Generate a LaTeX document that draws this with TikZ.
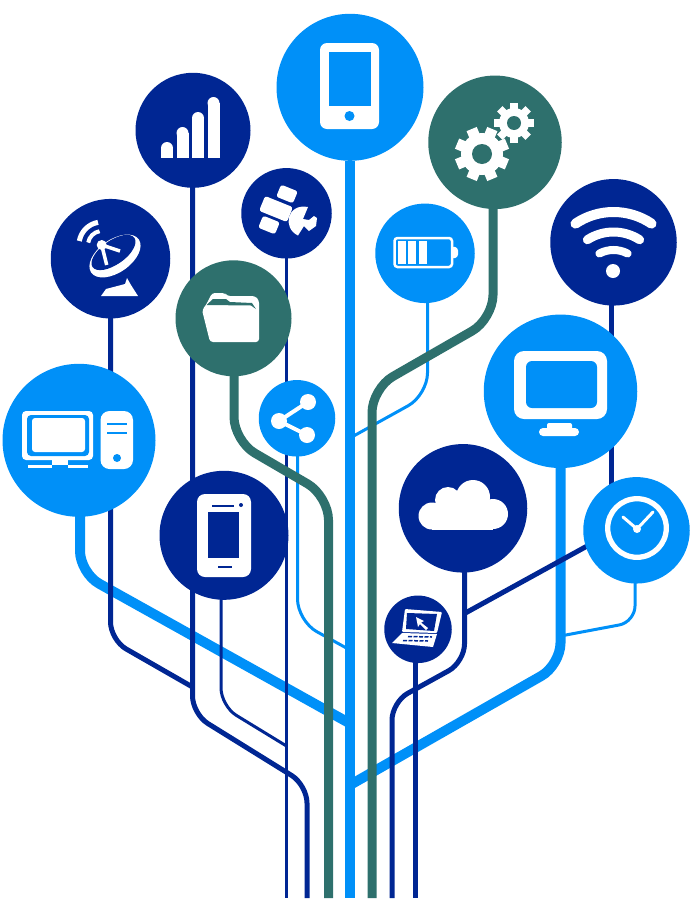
\documentclass[tikz,border=0pt]{standalone}
\usepackage{tikz}
\usepackage{xcolor}
\definecolor{navytone}{HTML}{002693}
\definecolor{skytone}{HTML}{0090F8}
\definecolor{leaftone}{HTML}{2E706D}
\pgfdeclarelayer{lines}
\pgfsetlayers{lines,main}
\begin{document}
\begin{tikzpicture}[
x=1pt, y=-1pt,
navydot/.style={circle, fill=navytone, inner sep=0pt, minimum size=#1},
skydot/.style={circle, fill=skytone, inner sep=0pt, minimum size=#1},
leafdot/.style={circle, fill=leaftone, inner sep=0pt, minimum size=#1},
navyline/.style={draw=navytone, line width=#1, rounded corners=18pt},
skyline/.style={draw=skytone, line width=#1, rounded corners=22pt},
leafline/.style={draw=leaftone, line width=9pt, rounded corners=24pt},
icon/.style={fill=white},
iconline/.style={draw=white, line width=#1}
]
\useasboundingbox (0,0) rectangle (700,900);

\node[skydot=147pt] (phone) at (350,87.3) {};
\node[navydot=115pt] (bars) at (193,130.3) {};
\node[navydot=119.5pt] (dish) at (110.5,258.7) {};
\node[navydot=90.5pt] (satellite) at (286.5,213.3) {};
\node[leafdot=116pt] (folder) at (233.5,318.3) {};
\node[leafdot=133.5pt] (gears) at (495,142.3) {};
\node[skydot=99.5pt] (battery) at (425,253.3) {};
\node[navydot=126.5pt] (wifi) at (613.5,242.3) {};
\node[skydot=153pt] (computer) at (79,440.3) {};
\node[skydot=76.5pt] (share) at (297,418.3) {};
\node[navydot=129pt] (mobile) at (224,535.3) {};
\node[skydot=153.5pt] (monitor) at (560.5,391.3) {};
\node[navydot=128.5pt] (cloud) at (463,508.3) {};
\node[skydot=106.5pt] (clock) at (636.5,530.3) {};
\node[navydot=67.5pt] (laptop) at (418,629.3) {};

\coordinate (trunkend) at (350,898);
\coordinate (computerknee) at (80,573);
\coordinate (computerjoin) at (350,723.5);
\coordinate (monitorknee) at (560.5,665);
\coordinate (monitorjoin) at (350,785);
\coordinate (folderknee) at (234,441);
\coordinate (folderbend) at (328.5,496);
\coordinate (folderend) at (328.5,898);
\coordinate (gearsknee) at (493,319);
\coordinate (gearsbend) at (372,388.5);
\coordinate (gearsend) at (372,898);
\coordinate (dishknee) at (110.5,640);
\coordinate (dishjoin) at (192.5,687);
\coordinate (barsknee) at (192.5,714);
\coordinate (barsbend) at (307,785);
\coordinate (barsend) at (307,898);
\coordinate (mobileknee) at (221,706);
\coordinate (mobilejoin) at (286.5,746);
\coordinate (satelliteend) at (286.5,898);
\coordinate (shareknee) at (297.5,621);
\coordinate (sharejoin) at (350,650);
\coordinate (batteryknee) at (427.5,395);
\coordinate (batteryjoin) at (350,438);
\coordinate (wifidrop) at (611.5,400);
\coordinate (cloudknee) at (464.5,662);
\coordinate (cloudbend) at (392,702);
\coordinate (cloudend) at (392,898);
\coordinate (cloudjoin) at (464.5,613.5);
\coordinate (clockknee) at (635,622);
\coordinate (clockjoin) at (560.5,636);
\coordinate (laptopend) at (415.5,898);

\begin{pgfonlayer}{lines}
\draw[skyline=3pt] (shareknee |- share) -- (shareknee) -- (sharejoin);
\draw[skyline=3pt] (batteryknee |- battery) -- (batteryknee) -- (batteryjoin);
\draw[skyline=3pt, rounded corners=16pt] (clockknee |- clock) -- (clockknee) -- (clockjoin);
\draw[skyline=10pt] (computerknee |- computer) -- (computerknee) -- (computerjoin);
\draw[skyline=10pt] (monitorknee |- monitor) -- (monitorknee) -- (monitorjoin);
\draw[skyline=10pt] (phone) -- (trunkend);
\draw[navyline=5pt] (dishknee |- dish) -- (dishknee) -- (dishjoin);
\draw[navyline=5pt] (barsknee |- bars) -- (barsknee) -- (barsbend) -- (barsend);
\draw[navyline=3pt] (mobileknee |- mobile) -- (mobileknee) -- (mobilejoin);
\draw[navyline=3.5pt] (satellite.center -| satelliteend) -- (satelliteend);
\draw[navyline=5pt] (wifidrop |- wifi) -- (wifidrop |- clock);
\draw[navyline=5pt] (cloudknee |- cloud) -- (cloudknee) -- (cloudbend) -- (cloudend);
\draw[navyline=5pt, shorten <=-3pt] (clock.198) -- (cloudjoin);
\draw[navyline=5.5pt] (laptopend |- laptop) -- (laptopend);
\draw[leafline] (folderknee |- folder) -- (folderknee) -- (folderbend) -- (folderend);
\draw[leafline] (gearsknee |- gears) -- (gearsknee) -- (gearsbend) -- (gearsend);
\end{pgfonlayer}

\fill[icon, rounded corners=7pt] (320,43) rectangle (379,129);
\fill[skytone] (328.5,52) rectangle (371,105.5);
\fill[skytone] (349.5,116) circle (5pt);

\foreach \bx/\bt in {161/142, 176.5/127, 192/112, 207.5/97} {
  \fill[icon] (\bx,\bt+6) rectangle (\bx+12,158);
  \fill[icon] (\bx+6,\bt+6) circle (6pt);
}

\draw[iconline=5pt] (102,245) ++(100:23pt) arc[start angle=100, end angle=170, radius=23pt];
\draw[iconline=4pt] (102,245) ++(100:14pt) arc[start angle=100, end angle=170, radius=14pt];
\fill[icon, rotate around={35:(115,256)}] (115,256) ellipse [x radius=29pt, y radius=16.5pt];
\fill[navytone, rotate around={35:(113.5,252.5)}] (113.5,252.5) ellipse [x radius=25.5pt, y radius=12pt];
\draw[navytone, line width=1.2pt] (95,265) .. controls (106,270) and (122,264) .. (131,251);
\draw[iconline=3.5pt] (101.7,245) -- (106.7,265);
\draw[iconline=3.5pt] (101.7,245) -- (120,251);
\fill[icon] (101.7,245) circle (5pt);
\fill[icon] (101,296) -- (106,289) -- (125,284) -- (127,278) -- (131,285) -- (138,296) -- cycle;

\fill[icon, rounded corners=2.5pt, rotate around={-22:(287,194)}] (278,187.5) rectangle (296,200.5);
\fill[icon, rounded corners=2.5pt, rotate around={-22:(276,209)}] (261,201) rectangle (291,217);
\fill[icon, rounded corners=2.5pt, rotate around={-22:(269,225)}] (260,218.5) rectangle (278,231.5);
\fill[icon] (308,207) .. controls (287,203) and (282,228) .. (298,235.5) -- (304,226) -- (309,231) -- (316,226) -- (317,218) -- (314,216) -- (309,220) -- (303,219) -- cycle;

\fill[icon, rounded corners=3pt] (202,310) -- (206,305) -- (212,293) -- (225,293) -- (227,296) -- (255,296) -- (259,300) -- (259,342) -- (210,342) -- cycle;
\fill[leaftone] (206.5,305) -- (213,299) -- (226,299) -- (230,302) -- (252,303) -- (256,309) -- (251,305.5) -- cycle;

\foreach \gx/\gy/\rbody/\rtip/\rhole/\twidth/\gstart in {482/154/21/27/10/11/22.5, 514/123/15/20/7/7.5/0} {
  \fill[icon] (\gx,\gy) circle (\rbody pt);
  \foreach \k in {0,...,7}
    \draw[iconline=\twidth pt] (\gx,\gy) -- ++({\gstart+45*\k}:\rtip pt);
  \fill[leaftone] (\gx,\gy) circle (\rhole pt);
}

\draw[iconline=2.5pt, rounded corners=3pt] (394.5,238) rectangle (452,267);
\foreach \cellx in {398,408,419}
  \fill[icon] (\cellx,241) rectangle (\cellx+7.5,264);
\fill[icon, rounded corners=2.5pt] (452,246) -- (458,248) -- (458,257) -- (452,259) -- cycle;

\foreach \wr/\wa/\wl in {68/34/10pt, 48/33/9pt, 30/28/8pt}
  \draw[iconline=\wl, line cap=round] (613.5,280) ++(90-\wa:\wr pt) arc[start angle=90-\wa, end angle=90+\wa, radius=\wr pt];
\fill[icon] (613,271) circle (7pt);

\fill[icon, rounded corners=4pt] (22,411) rectangle (93,460);
\fill[skytone, rounded corners=4pt] (27,415) rectangle (89,456);
\fill[icon, rounded corners=3pt] (32,418) rectangle (85,452);
\fill[icon] (52,460) rectangle (68,465);
\fill[icon] (28,465) rectangle (52,468);
\fill[icon] (68,465) rectangle (88,468);
\fill[icon, rounded corners=9pt] (100.5,411) rectangle (133,469);
\draw[skytone, line width=2.5pt] (107,424) -- (127,424);
\draw[skytone, line width=2.5pt] (107,433) -- (127,433);
\fill[skytone] (117,458) circle (4pt);

\draw[iconline=4pt] (308,402) -- (279,421) -- (307,435);
\fill[icon] (308,402) circle (8pt);
\fill[icon] (279,421) circle (8pt);
\fill[icon] (307,435) circle (8pt);

\fill[icon, rounded corners=8pt] (197,494) rectangle (251,577);
\fill[navytone] (208,512) rectangle (239,558);
\draw[navytone, line width=2pt] (212,506) -- (234,506);
\fill[navytone] (241,505) circle (2pt);
\draw[navytone, line width=1.5pt] (218,567) -- (232,567);

\fill[icon, rounded corners=10pt] (514,351) rectangle (607,419);
\fill[skytone, rounded corners=6pt] (526,361) rectangle (597,408);
\fill[icon, rounded corners=2pt] (547,423) rectangle (572,432);
\fill[icon, rounded corners=4pt] (539,428) rectangle (579,436);

\fill[icon] (432,516) circle (13.5pt);
\fill[icon] (448,500) circle (13pt);
\fill[icon] (473,497) circle (17pt);
\fill[icon] (493,514) circle (15pt);
\fill[icon] (432,505) rectangle (493,529.5);

\draw[iconline=5.3pt] (637,528) circle (29.3pt);
\draw[iconline=3pt, line cap=round] (623,517) -- (637,529) -- (653,512);
\fill[icon] (637,529) circle (4pt);

\fill[icon, rounded corners=1pt] (405,609) -- (442,612) -- (437,633) -- (402,632) -- cycle;
\fill[navytone] (407,613) -- (437,614) -- (434,631) -- (406,629) -- cycle;
\fill[icon] (416,617) -- (424,621) -- (421,622.5) -- (428,628) -- (426,630) -- (420,624) -- (418,627) -- cycle;
\fill[icon] (402,633) -- (437,634) -- (433,647) -- (392,643) -- cycle;
\draw[navytone, line width=1.5pt, dash pattern=on 4pt off 1.5pt] (408,636.5) -- (432,637);
\draw[navytone, line width=1.5pt, dash pattern=on 4pt off 1.5pt] (403,640.5) -- (428,641);

\end{tikzpicture}
\end{document}
